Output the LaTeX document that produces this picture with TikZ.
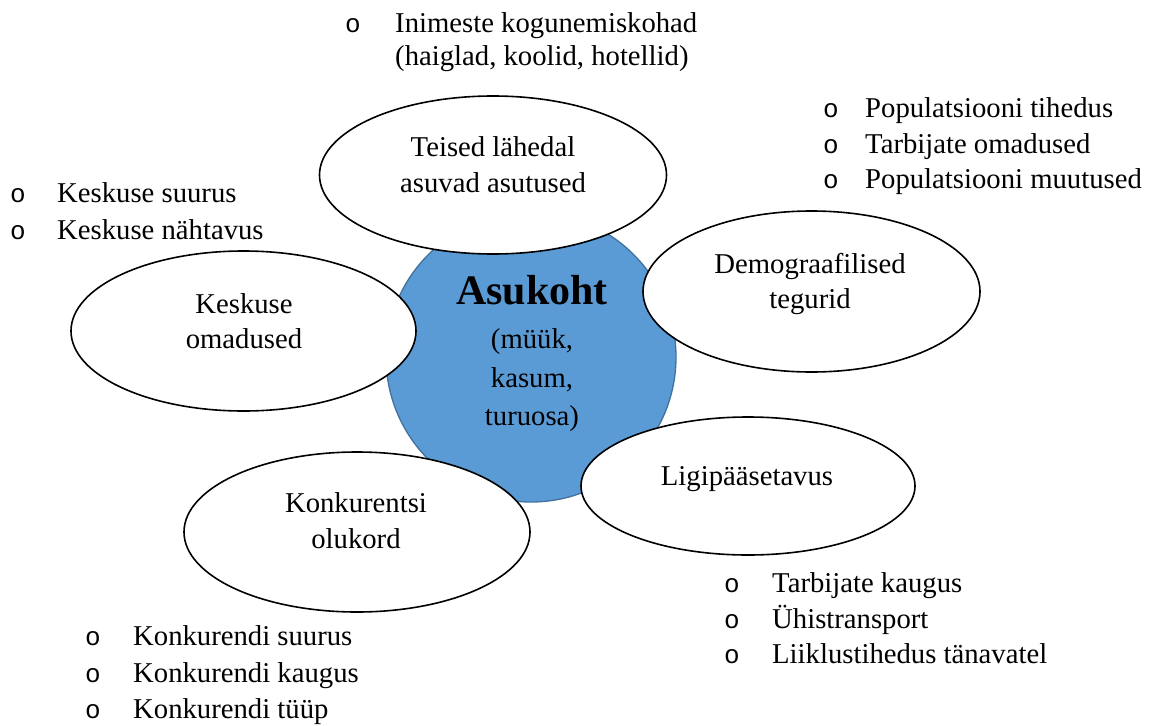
\documentclass[tikz,border=0pt]{standalone}
\usepackage{fontspec}
\setmainfont{Liberation Serif}
\newfontfamily\bulletfont{Liberation Mono}
\usetikzlibrary{shapes.geometric}
\definecolor{hubfill}{HTML}{5B9BD5}
\definecolor{hubline}{HTML}{41719C}
\tikzset{
  hub/.style={circle, fill=hubfill, draw=hubline, line width=1.3pt, minimum size=290pt, inner sep=0pt},
  factor/.style={ellipse, draw=black, fill=white, line width=1.6pt, inner sep=0pt},
  txt/.style={inner sep=0pt, font=\fontsize{28.7}{36}\selectfont},
  ctxt/.style={txt, anchor=base},
  ltxt/.style={txt, anchor=base west},
  bul/.style={inner sep=0pt, anchor=base, font=\bulletfont\fontsize{26}{36}\selectfont},
  hubtitle/.style={inner sep=0pt, anchor=base, font=\fontsize{42}{46}\selectfont\bfseries}
}
\begin{document}
\begin{tikzpicture}[x=1pt,y=-1pt]
\useasboundingbox (0,0) rectangle (1166,725);
% central circle
\node[hub] (hub) at (531,357) {};
% ellipses
\node[factor, minimum width=347pt, minimum height=158pt] (near) at (493,175) {};
\node[factor, minimum width=345pt, minimum height=160pt] (centre) at (243.5,331) {};
\node[factor, minimum width=337pt, minimum height=161pt] (demo) at (811.5,291.5) {};
\node[factor, minimum width=334pt, minimum height=138pt] (access) at (748,486) {};
\node[factor, minimum width=346pt, minimum height=160pt] (comp) at (357,532) {};
% hub text
\node[hubtitle] (hubA) at (532,304) {Asukoht};
\node[ctxt] (hubB) at (532,348) {(müük,};
\node[ctxt] (hubC) at (532,387) {kasum,};
\node[ctxt] (hubD) at (532,425) {turuosa)};
% ellipse texts
\node[ctxt] (nearA) at (493,156) {Teised lähedal};
\node[ctxt] (nearB) at (493,192) {asuvad asutused};
\node[ctxt] (centreA) at (244,313) {Keskuse};
\node[ctxt] (centreB) at (244,348) {omadused};
\node[ctxt] (demoA) at (810,273) {Demograafilised};
\node[ctxt] (demoB) at (810,308) {tegurid};
\node[ctxt] (accessA) at (747,485) {Ligipääsetavus};
\node[ctxt] (compA) at (356,512) {Konkurentsi};
\node[ctxt] (compB) at (356,548) {olukord};
% top list
\node[bul] (b1) at (353,33) {o};
\node[ltxt] (l1) at (395,33) {Inimeste kogunemiskohad};
\node[ltxt] (l1b) at (395,65) {(haiglad, koolid, hotellid)};
% left list
\node[bul] (b2) at (18,202) {o};
\node[ltxt] (l2) at (57,202) {Keskuse suurus};
\node[bul] (b3) at (18,239) {o};
\node[ltxt] (l3) at (57,239) {Keskuse nähtavus};
% right list
\node[bul] (b4) at (831,117) {o};
\node[ltxt] (l4) at (865,117) {Populatsiooni tihedus};
\node[bul] (b5) at (831,153) {o};
\node[ltxt] (l5) at (865,153) {Tarbijate omadused};
\node[bul] (b6) at (831,188) {o};
\node[ltxt] (l6) at (865,188) {Populatsiooni muutused};
% bottom right list
\node[bul] (b7) at (732,592) {o};
\node[ltxt] (l7) at (772,592) {Tarbijate kaugus};
\node[bul] (b8) at (732,628) {o};
\node[ltxt] (l8) at (772,628) {Ühistransport};
\node[bul] (b9) at (732,663) {o};
\node[ltxt] (l9) at (772,663) {Liiklustihedus tänavatel};
% bottom left list
\node[bul] (b10) at (93,645) {o};
\node[ltxt] (l10) at (133,645) {Konkurendi suurus};
\node[bul] (b11) at (93,682) {o};
\node[ltxt] (l11) at (133,682) {Konkurendi kaugus};
\node[bul] (b12) at (93,718) {o};
\node[ltxt] (l12) at (133,718) {Konkurendi tüüp};
\end{tikzpicture}
\end{document}
